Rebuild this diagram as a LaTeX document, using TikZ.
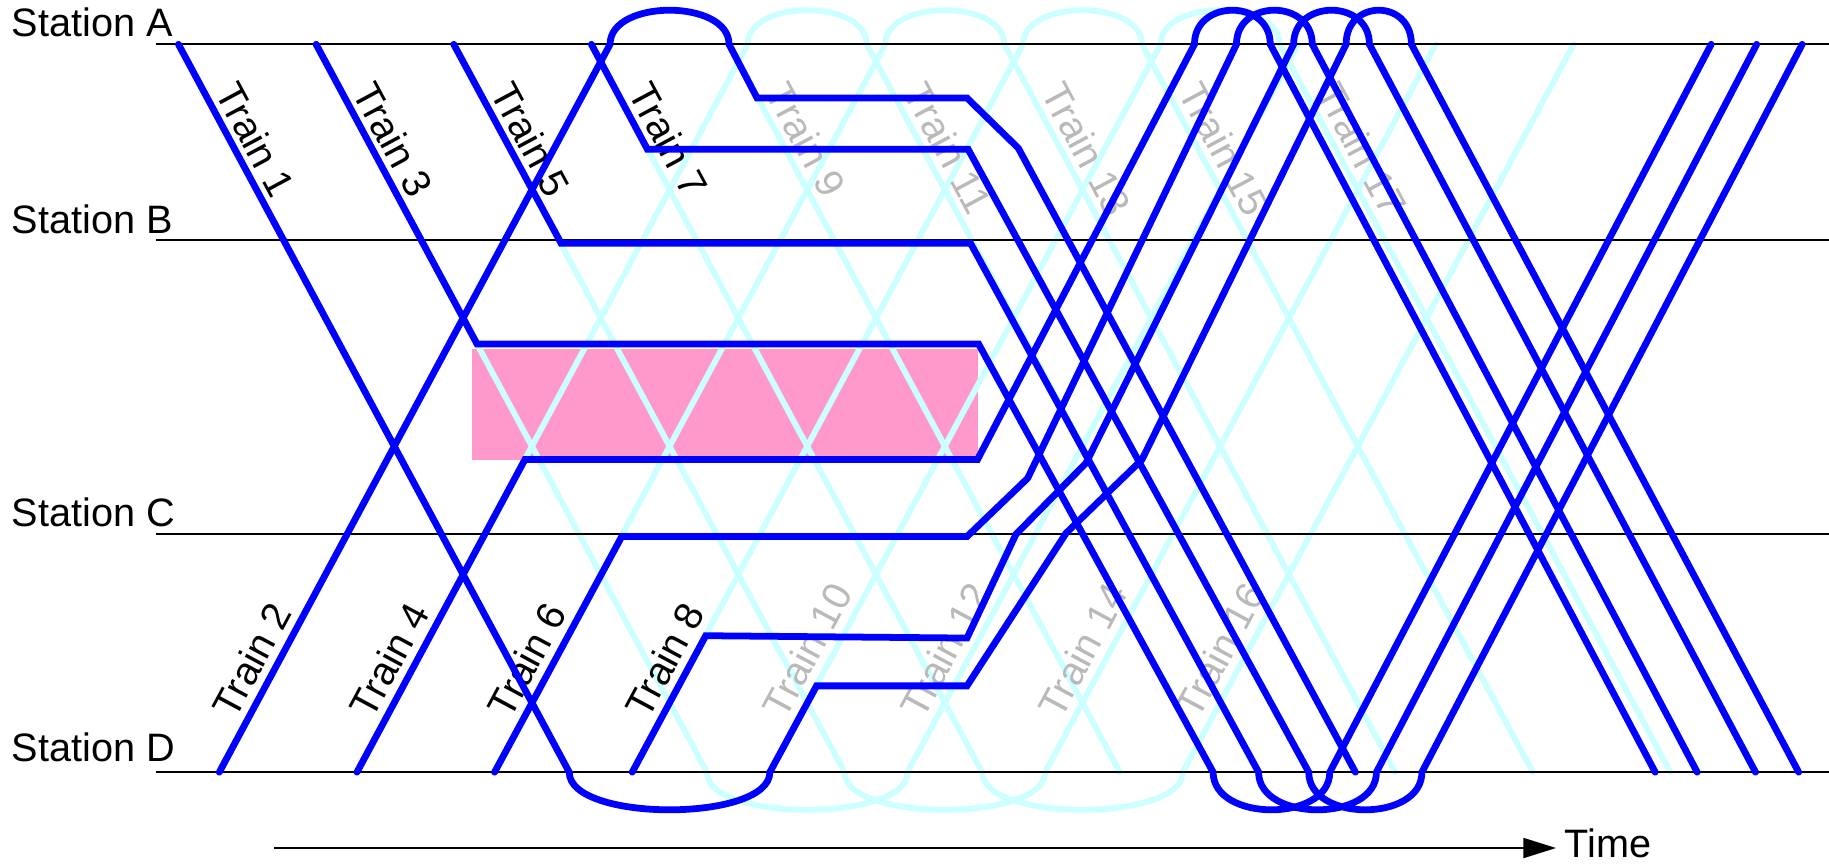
\documentclass[tikz,border=0pt]{standalone}
\usepackage{fontspec}
\setmainfont{Liberation Sans}
\usetikzlibrary{arrows.meta}
\definecolor{actblue}{RGB}{0,0,255}
\definecolor{schedcyan}{RGB}{204,255,255}
\definecolor{blockpink}{RGB}{255,153,204}
\definecolor{ghostgrey}{RGB}{185,185,185}
\tikzset{
  stn/.style={draw=black, line width=1.7pt},
  sched/.style={draw=schedcyan, line width=5pt, line cap=round, line join=round},
  act/.style={draw=actblue, line width=5.8pt, line cap=round, line join=miter},
  lbl/.style={font=\fontsize{34}{40}\selectfont, inner sep=3pt},
  dlbl/.style={lbl, rotate=-61.76, anchor=south west},
  ulbl/.style={lbl, rotate=61.76, anchor=south west},
  ghost/.style={text=ghostgrey},
  stlbl/.style={font=\fontsize{34}{40}\selectfont, inner sep=0pt, anchor=base west}
}
\begin{document}
\begin{tikzpicture}[x=1pt,y=-1pt]
\useasboundingbox (0,0) rectangle (1568,741);
% blocked section
\fill[blockpink] (405,299) rectangle (838,394);
% scheduled (cancelled) diagram
\draw[sched] (153,38) -- (488,662) .. controls +(0,43) and +(0,43) .. (660,662) -- (995,38) .. controls +(0,-39) and +(0,-39) .. (1097,38) -- (1432,662);
\draw[sched] (271,38) -- (606,662) .. controls +(0,43) and +(0,43) .. (778,662) -- (1113,38);
\draw[sched] (389,38) -- (724,662) .. controls +(0,43) and +(0,43) .. (896,662) -- (1231,38);
\draw[sched] (507,38) -- (842,662) .. controls +(0,43) and +(0,43) .. (1014,662) -- (1349,38);
\draw[sched] (188,662) -- (523,38) .. controls +(0,-39) and +(0,-39) .. (625,38) -- (960,662);
\draw[sched] (306,662) -- (641,38) .. controls +(0,-39) and +(0,-39) .. (743,38) -- (1078,662);
\draw[sched] (424,662) -- (759,38) .. controls +(0,-39) and +(0,-39) .. (861,38) -- (1196,662);
\draw[sched] (542,662) -- (877,38) .. controls +(0,-39) and +(0,-39) .. (979,38) -- (1314,662);
% stations
\draw[stn] (134,38) -- (1568,38);
\draw[stn] (134,206) -- (1568,206);
\draw[stn] (134,458) -- (1568,458);
\draw[stn] (134,662) -- (1568,662);
\node[stlbl] (sA) at (10,31.4) {Station A};
\node[stlbl] (sB) at (10,200) {Station B};
\node[stlbl] (sC) at (10,451.5) {Station C};
\node[stlbl] (sD) at (10,652.5) {Station D};
% train labels
\node[dlbl] (l1) at (179,78) {Train 1};
\node[dlbl] (l3) at (297,78) {Train 3};
\node[dlbl] (l5) at (415,78) {Train 5};
\node[dlbl] (l7) at (533,78) {Train 7};
\node[dlbl,ghost] (l9) at (651,78) {Train 9};
\node[dlbl,ghost] (l11) at (769,78) {Train 11};
\node[dlbl,ghost] (l13) at (887,78) {Train 13};
\node[dlbl,ghost] (l15) at (1005,78) {Train 15};
\node[dlbl,ghost] (l17) at (1123,78) {Train 17};
\node[ulbl] (l2) at (203.2,622) {Train 2};
\node[ulbl] (l4) at (321.2,622) {Train 4};
\node[ulbl] (l6) at (439.2,622) {Train 6};
\node[ulbl] (l8) at (557.2,622) {Train 8};
\node[ulbl,ghost] (l10) at (675.2,622) {Train 10};
\node[ulbl,ghost] (l12) at (793.2,622) {Train 12};
\node[ulbl,ghost] (l14) at (911.2,622) {Train 14};
\node[ulbl,ghost] (l16) at (1029.2,622) {Train 16};
% actual operation
\draw[act] (153,38) -- (488,662) .. controls +(0,43) and +(0,43) .. (660,662) -- (700,588) -- (829,588) -- (914,457) -- (979,394) -- (1154,38) .. controls +(0,-39) and +(0,-39) .. (1210,38) -- (1542,662);
\draw[act] (188,662) -- (523,38) .. controls +(0,-39) and +(0,-39) .. (625,38) -- (649,84) -- (829,84) -- (873,127) -- (1162,662);
\draw[act] (271,38) -- (409,295) -- (839,295) -- (1040,662) .. controls +(0,43) and +(0,43) .. (1140,662) -- (1467,38);
\draw[act] (306,662) -- (450,394) -- (838,394) -- (1024,38) .. controls +(0,-39) and +(0,-39) .. (1089,38) -- (1419,662);
\draw[act] (389,38) -- (481,208.5) -- (832,208.5) -- (1079,662) .. controls +(0,43) and +(0,43) .. (1180,662) -- (1506,38);
\draw[act] (424,662) -- (533,460) -- (829,460) -- (881,410) -- (1060,38) .. controls +(0,-39) and +(0,-39) .. (1125,38) -- (1455,662);
\draw[act] (507,38) -- (555,128) -- (830,128) -- (1122,662) .. controls +(0,43) and +(0,43) .. (1219,662) -- (1545,38);
\draw[act] (542,662) -- (605,545) -- (829,547) -- (871,458) -- (931,397) -- (1109,38) .. controls +(0,-39) and +(0,-39) .. (1174,38) -- (1505,662);
% time axis
\node[stlbl] (tm) at (1341,735) {Time};
\coordinate (t0) at (235,727);
\coordinate (t1) at (1334,727);
\draw[line width=2pt, -{Triangle[length=28pt,width=17pt]}] (t0) -- (t1);
\end{tikzpicture}
\end{document}
